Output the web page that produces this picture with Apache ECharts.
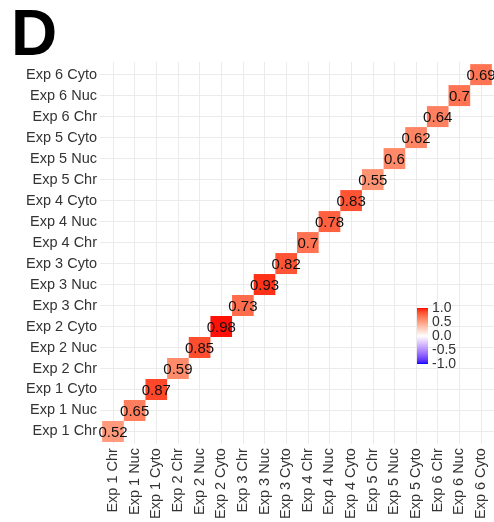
<!DOCTYPE html>
<html>
<head>
<meta charset="utf-8">
<script src="https://cdn.jsdelivr.net/npm/echarts@6/dist/echarts.min.js"></script>
<style>
  html, body { margin: 0; padding: 0; background: #fff; }
  #chart { width: 494px; height: 522px; }
</style>
</head>
<body>
<div id="chart"></div>
<script>
// Fractions, one per experiment, shown along the diagonal
const categories = [
  'Exp 1 Chr', 'Exp 1 Nuc', 'Exp 1 Cyto',
  'Exp 2 Chr', 'Exp 2 Nuc', 'Exp 2 Cyto',
  'Exp 3 Chr', 'Exp 3 Nuc', 'Exp 3 Cyto',
  'Exp 4 Chr', 'Exp 4 Nuc', 'Exp 4 Cyto',
  'Exp 5 Chr', 'Exp 5 Nuc', 'Exp 5 Cyto',
  'Exp 6 Chr', 'Exp 6 Nuc', 'Exp 6 Cyto'
];
const correlations = [
  0.52, 0.65, 0.87,
  0.59, 0.85, 0.98,
  0.73, 0.93, 0.82,
  0.7, 0.78, 0.83,
  0.55, 0.6, 0.62,
  0.64, 0.7, 0.69
];
const legendTicks = [-1, -0.5, 0, 0.5, 1];

const FONT = '"Liberation Sans", Arial, Helvetica, sans-serif';

// Diverging blue - white - red scale, interpolated in CIE Lab
const LAB_LOW = [32.30, 79.19, -107.86];   // blue
const LAB_MID = [100, 0, 0];              // white
const LAB_HIGH = [53.24, 80.09, 67.20];   // red

function labToHex(L, a, b) {
  const fy = (L + 16) / 116, fx = fy + a / 500, fz = fy - b / 200;
  const d = 6 / 29;
  const finv = t => (t > d ? t * t * t : 3 * d * d * (t - 4 / 29));
  const X = 0.95047 * finv(fx), Y = finv(fy), Z = 1.08883 * finv(fz);
  const lin = [
    3.2406 * X - 1.5372 * Y - 0.4986 * Z,
    -0.9689 * X + 1.8758 * Y + 0.0415 * Z,
    0.0557 * X - 0.2040 * Y + 1.0570 * Z
  ];
  return '#' + lin.map(c => {
    const v = c <= 0.0031308 ? 12.92 * c : 1.055 * Math.pow(c, 1 / 2.4) - 0.055;
    const n = Math.round(Math.max(0, Math.min(1, v)) * 255);
    return n.toString(16).padStart(2, '0');
  }).join('');
}
function scaleColor(v) {
  const t = Math.abs(v);
  const end = v < 0 ? LAB_LOW : LAB_HIGH;
  return labToHex(
    LAB_MID[0] + (end[0] - LAB_MID[0]) * t,
    LAB_MID[1] + (end[1] - LAB_MID[1]) * t,
    LAB_MID[2] + (end[2] - LAB_MID[2]) * t
  );
}
const STEPS = 40;
const scaleMin = legendTicks[0], scaleMax = legendTicks[legendTicks.length - 1];
const rampColors = [];
for (let i = 0; i <= STEPS; i++) {
  rampColors.push(scaleColor(scaleMin + (scaleMax - scaleMin) * i / STEPS));
}

const cellData = correlations.map((v, i) => [i + 1, i + 1, v]);
const positions = categories.map((_, i) => i + 1);

const chart = echarts.init(document.getElementById('chart'), null, { renderer: 'canvas' });

function axisLabelStyle(extra) {
  return Object.assign({
    customValues: positions,
    formatter: v => categories[Math.round(v) - 1] || '',
    fontFamily: FONT,
    fontSize: 14.5,
    color: '#333'
  }, extra);
}
function catAxis(extra) {
  return Object.assign({
    type: 'value',
    min: 0.4,
    max: categories.length + 0.6,
    axisLine: { show: false },
    axisTick: { show: false, customValues: positions },
    splitLine: { show: true, lineStyle: { color: '#ebebeb', width: 1 } }
  }, extra);
}

const option = {
  animation: false,
  backgroundColor: '#fff',
  textStyle: { fontFamily: FONT },
  graphic: [{
    type: 'text',
    left: 11,
    top: 5,
    style: { text: 'D', fontFamily: FONT, fontWeight: 'bold', fontSize: 64, fill: '#000' }
  }],
  grid: [
    { left: 100, top: 62, width: 396, height: 388 },
    { left: 417, top: 308, width: 11, height: 56 }
  ],
  xAxis: [
    catAxis({ gridIndex: 0, axisLabel: axisLabelStyle({ rotate: 90, margin: 4 }) }),
    { gridIndex: 1, type: 'value', min: 0, max: 1, show: false }
  ],
  yAxis: [
    catAxis({ gridIndex: 0, axisLabel: axisLabelStyle({ margin: 3 }) }),
    {
      gridIndex: 1, type: 'value', min: scaleMin, max: scaleMax, interval: 0.5,
      position: 'right',
      axisLine: { show: false }, axisTick: { show: false }, splitLine: { show: false },
      axisLabel: {
        formatter: v => v.toFixed(1),
        fontFamily: FONT, fontSize: 14, color: '#333', margin: 4
      }
    }
  ],
  visualMap: {
    show: false,
    type: 'continuous',
    seriesIndex: 0,
    dimension: 2,
    min: scaleMin,
    max: scaleMax,
    inRange: { color: rampColors }
  },
  series: [
    {
      type: 'custom',
      xAxisIndex: 0,
      yAxisIndex: 0,
      data: cellData,
      renderItem(params, api) {
        const x = api.value(0), y = api.value(1), v = api.value(2);
        const p0 = api.coord([x - 0.5, y + 0.5]);
        const p1 = api.coord([x + 0.5, y - 0.5]);
        const c = api.coord([x, y]);
        return {
          type: 'group',
          children: [
            {
              type: 'rect',
              shape: { x: p0[0], y: p0[1], width: p1[0] - p0[0], height: p1[1] - p0[1] },
              style: { fill: api.visual('color') }
            },
            {
              type: 'text',
              x: c[0],
              y: c[1] + 1,
              z2: 10,
              style: {
                text: String(v),
                fontFamily: FONT,
                fontSize: 15,
                fill: '#111',
                align: 'center',
                verticalAlign: 'middle'
              }
            }
          ]
        };
      }
    },
    {
      // colour bar of the fill scale
      type: 'custom',
      xAxisIndex: 1,
      yAxisIndex: 1,
      data: [[0, scaleMin, 1, scaleMax]],
      renderItem(params, api) {
        const top = api.coord([api.value(0), api.value(3)]);
        const bottom = api.coord([api.value(2), api.value(1)]);
        const stops = rampColors.map((col, i) => ({ offset: 1 - i / STEPS, color: col }));
        stops.reverse();
        return {
          type: 'rect',
          shape: { x: top[0], y: top[1], width: bottom[0] - top[0], height: bottom[1] - top[1] },
          style: { fill: new echarts.graphic.LinearGradient(0, 0, 0, 1, stops) }
        };
      }
    }
  ]
};

chart.setOption(option);
</script>
</body>
</html>
